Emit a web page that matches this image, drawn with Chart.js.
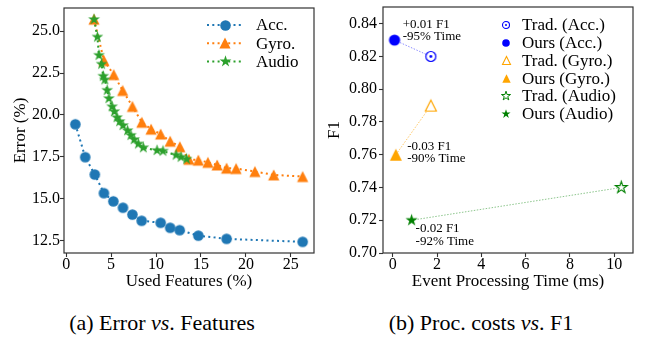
<!DOCTYPE html>
<html>
<head>
<meta charset="utf-8">
<script src="https://cdn.jsdelivr.net/npm/chart.js@4.4.1/dist/chart.umd.min.js"></script>
<style>
  body { margin: 0; background: #fff; width: 646px; height: 337px; position: relative; overflow: hidden;
         font-family: "Liberation Serif", "Times New Roman", serif; }
  canvas { position: absolute; top: 0; }
  #chartA { left: 0; }
  #chartB { left: 323px; }
  .caption { position: absolute; top: 310px; font-size: 22px; line-height: 26px; color: #000;
             white-space: nowrap; transform: translateX(-50%); }
</style>
</head>
<body>
<canvas id="chartA" width="323" height="300"></canvas>
<canvas id="chartB" width="323" height="300"></canvas>
<div class="caption" style="left:162px">(a) Error <i>vs</i>. Features</div>
<div class="caption" style="left:481px">(b) Proc. costs <i>vs</i>. F1</div>
<script>
// (a) error vs. used features
const accFeat = [1.02, 2.12, 3.18, 4.2, 5.25, 6.32, 7.37, 8.4, 10.51, 11.57, 12.63, 14.71, 17.85, 26.32];
const accErr = [19.44, 17.48, 16.44, 15.33, 14.84, 14.46, 14.05, 13.68, 13.56, 13.26, 13.12, 12.79, 12.6, 12.42];
const gyroFeat = [3.1, 4.2, 5.29, 6.28, 7.37, 8.42, 9.45, 10.51, 11.57, 12.65, 13.66, 14.71, 15.77, 16.8, 17.85, 18.91, 21.0, 23.1, 26.32];
const gyroErr = [25.72, 23.25, 22.41, 21.46, 20.51, 19.56, 19.15, 18.86, 18.43, 18.1, 17.35, 17.3, 17.17, 17.01, 16.82, 16.8, 16.62, 16.42, 16.32];
const audioFeat = [3.1, 3.47, 3.65, 3.94, 4.12, 4.3, 4.56, 4.75, 5.11, 5.36, 5.66, 5.95, 6.32, 6.83, 7.2, 7.56, 8.03, 8.58, 10.11, 10.77, 12.23, 12.78, 13.4];
const audioErr = [25.7, 24.65, 23.56, 23.03, 22.31, 22.1, 21.47, 20.98, 20.49, 20.2, 19.84, 19.6, 19.37, 19.06, 18.78, 18.53, 18.27, 18.04, 17.88, 17.84, 17.6, 17.48, 17.36];
const xTicksA = [0, 5, 10, 15, 20, 25];
const yTicksA = [12.5, 15, 17.5, 20, 22.5, 25];
const seriesA = ['Acc.', 'Gyro.', 'Audio'];

// (b) processing time vs. F1
const tradTime = [1.72, 1.72, 10.32];
const tradF1 = [0.82, 0.79, 0.74];
const oursTime = [0.08, 0.14, 0.85];
const oursF1 = [0.83, 0.76, 0.72];
const sensors = ['Acc.', 'Gyro.', 'Audio'];
const annX = [0.45, 0.65, 1.03];
const annY = [0.8396, 0.7651, 0.7148];
const annText = [['+0.01 F1', '-95% Time'], ['-0.03 F1', '-90% Time'], ['-0.02 F1', '-92% Time']];
const xTicksB = [0, 2, 4, 6, 8, 10];
const yTicksB = [0.70, 0.72, 0.74, 0.76, 0.78, 0.80, 0.82, 0.84];

const FONT = '"Liberation Serif", "Times New Roman", serif';
Chart.defaults.font.family = FONT;
Chart.defaults.color = '#000';

// marker images (matplotlib-like shapes)
function marker(shape, r, fill, stroke, lw) {
  lw = lw || 0;
  const size = Math.ceil(2 * (r + lw)) + 2;
  const c = document.createElement('canvas');
  c.width = c.height = size;
  const ctx = c.getContext('2d');
  const m = size / 2;
  ctx.beginPath();
  if (shape === 'circle' || shape === 'odot') {
    ctx.arc(m, m, r, 0, Math.PI * 2);
  } else if (shape === 'tri') {
    ctx.moveTo(m, m - r); ctx.lineTo(m + r, m + r); ctx.lineTo(m - r, m + r); ctx.closePath();
  } else if (shape === 'star') {
    const ri = r * 0.382;
    for (let i = 0; i < 10; i++) {
      const a = -Math.PI / 2 + i * Math.PI / 5;
      const rr = i % 2 ? ri : r;
      ctx.lineTo(m + rr * Math.cos(a), m + rr * Math.sin(a));
    }
    ctx.closePath();
  }
  if (fill) { ctx.fillStyle = fill; ctx.fill(); }
  if (stroke) { ctx.strokeStyle = stroke; ctx.lineWidth = lw; ctx.lineJoin = 'miter'; ctx.stroke(); }
  if (shape === 'odot') {
    ctx.beginPath(); ctx.arc(m, m, r * 0.28, 0, Math.PI * 2); ctx.fillStyle = stroke; ctx.fill();
  }
  return c;
}

const C_ACC = '#1f77b4', C_GYRO = '#ff7f0e', C_AUDIO = '#2ca02c';
const B_BLUE = '#0000ff', B_ORANGE = '#ffa500', B_GREEN = '#008000';

const styleA = [
  { color: C_ACC, img: marker('circle', 5.3, C_ACC) },
  { color: C_GYRO, img: marker('tri', 5.6, C_GYRO) },
  { color: C_AUDIO, img: marker('star', 6.2, C_AUDIO) }
];

const tradImg = [marker('odot', 5, '#fff', B_BLUE, 1.2), marker('tri', 5.5, '#fff', B_ORANGE, 1.2), marker('star', 6.2, '#fff', B_GREEN, 1.1)];
const oursImg = [marker('circle', 5.6, B_BLUE), marker('tri', 6, B_ORANGE), marker('star', 6.4, B_GREEN)];
const tradLeg = [marker('odot', 3.5, '#fff', B_BLUE, 1.1), marker('tri', 4, '#fff', B_ORANGE, 1.1), marker('star', 4.8, '#fff', B_GREEN, 1)];
const oursLeg = [marker('circle', 3.8, B_BLUE), marker('tri', 4.2, B_ORANGE), marker('star', 4.8, B_GREEN)];
const pairLine = ['rgba(0,0,255,0.45)', 'rgba(255,165,0,0.6)', 'rgba(0,128,0,0.45)'];

// frame around the plot area (all four spines)
const frame = {
  id: 'frame',
  afterDatasetsDraw(chart) {
    const { ctx, chartArea: a } = chart;
    ctx.save();
    ctx.strokeStyle = '#333';
    ctx.lineWidth = 1.2;
    ctx.strokeRect(a.left, a.top, a.right - a.left, a.bottom - a.top);
    ctx.restore();
  }
};

// legend drawn inside the plot, like matplotlib's
const innerLegend = {
  id: 'innerLegend',
  afterDraw(chart, args, opts) {
    if (!opts.items) return;
    const ctx = chart.ctx;
    ctx.save();
    ctx.font = '17px ' + FONT;
    ctx.textBaseline = 'middle';
    ctx.textAlign = 'left';
    opts.items.forEach((it, i) => {
      const y = opts.y + i * opts.gap;
      if (it.line) {
        ctx.strokeStyle = it.line;
        ctx.lineWidth = 2;
        ctx.setLineDash([2, 3.3]);
        ctx.beginPath(); ctx.moveTo(opts.lineFrom, y); ctx.lineTo(opts.lineTo, y); ctx.stroke();
        ctx.setLineDash([]);
      }
      ctx.drawImage(it.img, Math.round(opts.markerX - it.img.width / 2), Math.round(y - it.img.height / 2));
      ctx.fillStyle = '#000';
      ctx.fillText(it.label, opts.textX, y + 1);
    });
    ctx.restore();
  }
};

// text notes placed at data coordinates
const notes = {
  id: 'notes',
  afterDatasetsDraw(chart, args, opts) {
    if (!opts.show) return;
    const { ctx, scales: { x, y } } = chart;
    ctx.save();
    ctx.font = '13px ' + FONT;
    ctx.fillStyle = '#000';
    ctx.textBaseline = 'middle';
    annText.forEach((lines, i) => {
      const px = x.getPixelForValue(annX[i]);
      const py = y.getPixelForValue(annY[i]);
      lines.forEach((t, j) => ctx.fillText(t, px, py + j * 12.5));
    });
    ctx.restore();
  }
};

const tickFont = { size: 16, lineHeight: 1 };
const titleFont = { size: 17 };
const gridOpts = { drawOnChartArea: false, drawTicks: true, tickLength: 4, tickColor: '#333', tickWidth: 1.1 };

// fixed axis box sizes so the plot area sits where the reference has it
const fixX = s => { s.height = 47; s.paddingLeft = 0; s.paddingRight = 0; };
const fixY = w => s => { s.width = w; s.paddingTop = 0; s.paddingBottom = 0; };

function axis(min, max, ticks, fmt, fit, title, titlePad, tickPad) {
  return {
    type: 'linear', min: min, max: max,
    afterBuildTicks: s => { s.ticks = ticks.map(v => ({ value: v })); },
    afterFit: fit,
    border: { display: false },
    grid: gridOpts,
    ticks: { font: tickFont, color: '#000', padding: tickPad, maxRotation: 0, autoSkip: false, callback: fmt },
    title: { display: true, text: title, color: '#000', font: titleFont, padding: titlePad }
  };
}

// chart (a)
const featData = [accFeat, gyroFeat, audioFeat];
const errData = [accErr, gyroErr, audioErr];
new Chart(document.getElementById('chartA'), {
  type: 'scatter',
  data: {
    datasets: seriesA.map((name, k) => ({
      label: name,
      data: featData[k].map((v, i) => ({ x: v, y: errData[k][i] })),
      showLine: true,
      borderColor: styleA[k].color,
      borderWidth: 2,
      borderDash: [2, 3.3],
      pointStyle: styleA[k].img,
      pointRadius: 6,
      order: 2 - k,
      clip: false
    }))
  },
  options: {
    responsive: false, animation: false, devicePixelRatio: 1,
    layout: { padding: { top: 4, right: 9, left: 0, bottom: 0 } },
    plugins: {
      legend: { display: false }, tooltip: { enabled: false },
      innerLegend: {
        y: 25, gap: 18.3, lineFrom: 207, lineTo: 242, markerX: 225, textX: 256,
        items: seriesA.map((name, k) => ({ label: name, line: styleA[k].color, img: styleA[k].img }))
      },
      notes: { show: false }
    },
    scales: {
      x: axis(-0.245, 27.58, xTicksA, v => String(v), fixX, 'Used Features (%)', { top: 0, bottom: 8 }, 0),
      y: axis(11.755, 26.385, yTicksA, v => v.toFixed(1), fixY(64), 'Error (%)', { top: 10.5, bottom: 0 }, 0)
    }
  },
  plugins: [frame, innerLegend, notes]
});

// chart (b)
const dsB = [];
sensors.forEach((s, k) => {
  dsB.push({
    label: 'pair ' + s,
    data: [{ x: oursTime[k], y: oursF1[k] }, { x: tradTime[k], y: tradF1[k] }],
    showLine: true, borderColor: pairLine[k], borderWidth: 1, borderDash: [1.5, 1.5],
    pointRadius: 0, order: 10
  });
});
sensors.forEach((s, k) => {
  dsB.push({ label: 'Trad. (' + s + ')', data: [{ x: tradTime[k], y: tradF1[k] }], pointStyle: tradImg[k], pointRadius: 6, order: 1, clip: false });
  dsB.push({ label: 'Ours (' + s + ')', data: [{ x: oursTime[k], y: oursF1[k] }], pointStyle: oursImg[k], pointRadius: 6, order: 1, clip: false });
});

const legendB = [];
sensors.forEach((s, k) => {
  legendB.push({ label: 'Trad. (' + s + ')', img: tradLeg[k] });
  legendB.push({ label: 'Ours (' + s + ')', img: oursLeg[k] });
});

new Chart(document.getElementById('chartB'), {
  type: 'scatter',
  data: { datasets: dsB },
  options: {
    responsive: false, animation: false, devicePixelRatio: 1,
    layout: { padding: { top: 4, right: 13, left: 0, bottom: 0 } },
    plugins: {
      legend: { display: false }, tooltip: { enabled: false },
      innerLegend: { y: 25, gap: 17.7, markerX: 183, textX: 199, items: legendB },
      notes: { show: true }
    },
    scales: {
      x: axis(-0.44, 10.85, xTicksB, v => String(v), fixX, 'Event Processing Time (ms)', { top: 0, bottom: 8 }, 0),
      y: axis(0.70, 0.8502, yTicksB, v => v.toFixed(2), fixY(60), 'F1', { top: 1, bottom: 0 }, 2)
    }
  },
  plugins: [frame, innerLegend, notes]
});
</script>
</body>
</html>
